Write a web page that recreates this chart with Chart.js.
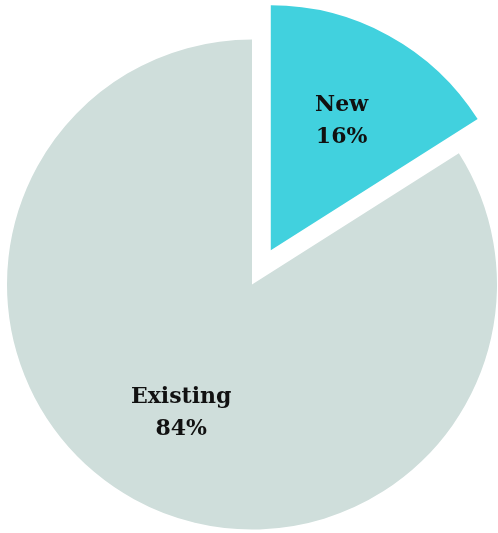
<!DOCTYPE html>
<html lang="en">
<head>
    <meta charset="UTF-8">
    <title>New vs Existing</title>
    <script src="https://cdn.jsdelivr.net/npm/chart.js"></script>
    <style>
        html, body { margin: 0; padding: 0; background: #ffffff; }
        #wrap { width: 498px; height: 533px; position: relative; }
    </style>
</head>
<body>
    <div id="wrap"><canvas id="pieChart"></canvas></div>

    <script>
        // Chart data
        const labels = ['New', 'Existing'];
        const shares = [16, 84];
        const colors = ['#41d1de', '#cfdedb'];
        const explode = [39, 0]; // pull-out distance for each slice, px

        // shift exploded slices outwards along their middle angle
        const explodePlugin = {
            id: 'explode',
            afterDatasetUpdate(chart, args) {
                const meta = chart.getDatasetMeta(args.index);
                meta.data.forEach((arc, i) => {
                    const d = explode[i] || 0;
                    if (!d) return;
                    const mid = (arc.startAngle + arc.endAngle) / 2;
                    arc.x += Math.cos(mid) * d;
                    arc.y += Math.sin(mid) * d;
                });
            }
        };

        // two-line labels inside the slices
        const labelPlugin = {
            id: 'sliceLabels',
            afterDatasetsDraw(chart) {
                const ctx = chart.ctx;
                const meta = chart.getDatasetMeta(0);
                const total = shares.reduce((a, b) => a + b, 0);
                ctx.save();
                ctx.fillStyle = '#111111';
                ctx.font = 'bold 22px "DejaVu Serif", serif';
                ctx.textAlign = 'center';
                ctx.textBaseline = 'middle';
                meta.data.forEach((arc, i) => {
                    const mid = (arc.startAngle + arc.endAngle) / 2;
                    const r = arc.outerRadius * 0.6;
                    const x = arc.x + Math.cos(mid) * r;
                    const y = arc.y + Math.sin(mid) * r;
                    const pct = Math.round(shares[i] / total * 100) + '%';
                    ctx.fillText(labels[i], x, y - 16);
                    ctx.fillText(pct, x, y + 16);
                });
                ctx.restore();
            }
        };

        new Chart(document.getElementById('pieChart'), {
            type: 'pie',
            data: {
                labels: labels,
                datasets: [{
                    data: shares,
                    backgroundColor: colors,
                    borderWidth: 0,
                    radius: 245
                }]
            },
            options: {
                responsive: true,
                maintainAspectRatio: false,
                animation: false,
                layout: { padding: { top: 36, left: 6, right: 0, bottom: 0 } },
                plugins: {
                    legend: { display: false },
                    tooltip: { enabled: false }
                }
            },
            plugins: [explodePlugin, labelPlugin]
        });
    </script>
</body>
</html>
